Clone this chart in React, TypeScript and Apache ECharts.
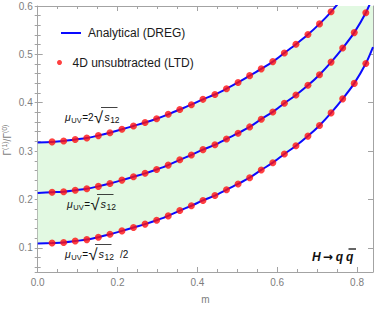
import React, { useEffect, useRef } from "react";
import * as echarts from "echarts";

// m values of the LTD points
const mDots = [0.036, 0.065, 0.094, 0.123, 0.152, 0.181, 0.211, 0.240, 0.269, 0.298, 0.327, 0.356, 0.385, 0.414,
  0.444, 0.473, 0.502, 0.531, 0.560, 0.589, 0.618, 0.647, 0.677, 0.706, 0.735, 0.764, 0.793, 0.822];
// 4D unsubtracted (LTD) points
const ltdTop = [0.319, 0.321, 0.324, 0.327, 0.332, 0.338, 0.345, 0.352, 0.359, 0.367, 0.376, 0.386, 0.396, 0.407,
  0.417, 0.429, 0.442, 0.456, 0.470, 0.485, 0.503, 0.521, 0.541, 0.563, 0.588];
const ltdMid = [0.215, 0.216, 0.219, 0.222, 0.227, 0.233, 0.240, 0.247, 0.254, 0.262, 0.271, 0.282, 0.292, 0.303,
  0.313, 0.325, 0.337, 0.350, 0.366, 0.381, 0.399, 0.416, 0.436, 0.458, 0.484, 0.513, 0.545, 0.586];
const ltdLow = [0.110, 0.111, 0.114, 0.117, 0.122, 0.128, 0.135, 0.142, 0.149, 0.157, 0.166, 0.177, 0.187, 0.198,
  0.208, 0.220, 0.232, 0.245, 0.261, 0.276, 0.294, 0.311, 0.331, 0.353, 0.379, 0.408, 0.440, 0.481];

// Analytical (DREG) curves
const mCurve = [0.0, 0.036, 0.065, 0.094, 0.123, 0.152, 0.181, 0.211, 0.240, 0.269, 0.298, 0.327, 0.356, 0.385,
  0.414, 0.444, 0.473, 0.502, 0.531, 0.560, 0.589, 0.618, 0.647, 0.677, 0.706, 0.735, 0.764, 0.793, 0.822, 0.84];
const dregTop = [0.318, 0.319, 0.321, 0.324, 0.327, 0.332, 0.338, 0.345, 0.352, 0.359, 0.367, 0.376, 0.386, 0.396,
  0.407, 0.417, 0.429, 0.442, 0.456, 0.470, 0.485, 0.503, 0.521, 0.541, 0.563, 0.588, 0.617, 0.649, 0.690, 0.726];
const dregMid = [0.2135, 0.215, 0.216, 0.219, 0.222, 0.227, 0.233, 0.240, 0.247, 0.254, 0.262, 0.271, 0.282, 0.292,
  0.303, 0.313, 0.325, 0.337, 0.350, 0.366, 0.381, 0.399, 0.416, 0.436, 0.458, 0.484, 0.513, 0.545, 0.586, 0.620];
const dregLow = [0.109, 0.110, 0.111, 0.114, 0.117, 0.122, 0.128, 0.135, 0.142, 0.149, 0.157, 0.166, 0.177, 0.187,
  0.198, 0.208, 0.220, 0.232, 0.245, 0.261, 0.276, 0.294, 0.311, 0.331, 0.353, 0.379, 0.408, 0.440, 0.481, 0.515];

const xTickLabels = ["0.0", "0.2", "0.4", "0.6", "0.8"];
const yTickLabels = ["0.1", "0.2", "0.3", "0.4", "0.5", "0.6"];

const LINE_NAME = "Analytical (DREG)";
const DOT_NAME = "4D unsubtracted (LTD)";

const FONT = "Liberation Sans";
const frameColor = "#a3a3a3";
const labelColor = "#7d7d7d";
const blue = "#0a0aff";
const red = "#ff1010";
const green = "#e2f9e2";

const zip = (xs: number[], ys: number[]) => ys.map((y, i) => [xs[i], y]);

function fmt(list: string[]) {
  return (v: number) => {
    const s = v.toFixed(1);
    return list.includes(s) && Math.abs(v - parseFloat(s)) < 1e-6 ? s : "";
  };
}

function majorX(position: "bottom" | "top", labels: boolean) {
  return {
    type: "value", position, min: 0, max: 0.84, interval: 0.2,
    axisLine: { show: true, onZero: false, lineStyle: { color: frameColor, width: 1 } },
    axisTick: { show: true, inside: true, length: 5, lineStyle: { color: frameColor } },
    axisLabel: { show: labels, formatter: fmt(xTickLabels), color: labelColor, fontSize: 10, fontFamily: FONT, margin: 5, showMaxLabel: false },
    splitLine: { show: false },
    ...(labels ? { name: "m", nameLocation: "middle", nameGap: 22, nameTextStyle: { color: labelColor, fontSize: 10, fontFamily: FONT } } : {}),
  };
}
function minorX(position: "bottom" | "top") {
  return {
    type: "value", position, min: 0, max: 0.84, interval: 0.05,
    axisLine: { show: false }, axisLabel: { show: false }, splitLine: { show: false },
    axisTick: { show: true, inside: true, length: 3, lineStyle: { color: frameColor } },
  };
}
function majorY(position: "left" | "right", labels: boolean) {
  return {
    type: "value", position, min: 0.05, max: 0.6, minInterval: 0.1, maxInterval: 0.1,
    axisLine: { show: true, onZero: false, lineStyle: { color: frameColor, width: 1 } },
    axisTick: { show: true, inside: true, length: 5, lineStyle: { color: frameColor } },
    axisLabel: { show: labels, formatter: fmt(yTickLabels), color: labelColor, fontSize: 10, fontFamily: FONT, margin: 5 },
    splitLine: { show: false },
  };
}
function minorY(position: "left" | "right") {
  return {
    type: "value", position, min: 0.05, max: 0.6, minInterval: 0.02, maxInterval: 0.02,
    axisLine: { show: false }, axisLabel: { show: false }, splitLine: { show: false },
    axisTick: { show: true, inside: true, length: 3, lineStyle: { color: frameColor } },
  };
}

const muRich = {
  mu: { fontSize: 10.5, fontStyle: "italic", fontFamily: FONT, fill: "#111" },
  sub: { fontSize: 7.5, fontFamily: FONT, fill: "#111", padding: [6, 0, 0, 0.5] },
  eq: { fontSize: 10, fontFamily: FONT, fill: "#111", padding: [0, 0.5, 0, 0.5] },
  rad: { fontSize: 16.5, fontFamily: FONT, fill: "#111" },
  s: { fontSize: 11, fontStyle: "italic", fontFamily: FONT, fill: "#111", padding: [0, 0, 0, 1] },
  n: { fontSize: 8.5, fontFamily: FONT, fill: "#111", padding: [6, 0, 0, 0.5] },
  tail: { fontSize: 10, fontFamily: FONT, fill: "#111", padding: [0, 0, 0, 6] },
};
function muLabel(x: number, y: number, text: string) {
  return {
    type: "text", x, y, silent: true, z: 10,
    style: { text, align: "left", verticalAlign: "middle", rich: muRich, fill: "#111", fontFamily: FONT },
  };
}
function bar(x1: number, x2: number, y: number, w = 0.8) {
  return { type: "line", silent: true, z: 10, shape: { x1, y1: y, x2, y2: y }, style: { stroke: "#111", lineWidth: w } };
}

export default function App() {
  const ref = useRef<HTMLDivElement>(null);
  useEffect(() => {
    if (!ref.current) return;
    const chart = echarts.init(ref.current, null, { renderer: "svg" });
    const curve = (data: number[]) => ({
      type: "line", name: LINE_NAME, data: zip(mCurve, data), smooth: 0.3, symbol: "none", showSymbol: false,
      xAxisIndex: 0, yAxisIndex: 0, z: 3, clip: true,
      lineStyle: { color: blue, width: 2 }, itemStyle: { color: blue },
    });
    const dots = (data: number[]) => ({
      type: "scatter", name: DOT_NAME, data: zip(mDots, data), symbol: "circle", symbolSize: 7,
      xAxisIndex: 0, yAxisIndex: 0, z: 4, clip: true, itemStyle: { color: red },
    });
    chart.setOption({
      animation: false,
      grid: { left: 37.7, right: 1, top: 6, bottom: 36.3, containLabel: false },
      xAxis: [majorX("bottom", true), minorX("bottom"), majorX("top", false), minorX("top")],
      yAxis: [majorY("left", true), minorY("left"), majorY("right", false), minorY("right")],
      legend: [
        {
          data: [{ name: LINE_NAME, icon: "rect" }], left: 61, top: 27, padding: 0, itemWidth: 20, itemHeight: 2,
          selectedMode: false, textStyle: { fontSize: 12, fontFamily: FONT, color: "#1a1a1a", padding: [0, 0, 0, 2] },
        },
        {
          data: [{ name: DOT_NAME, icon: "circle" }], left: 57, top: 56.5, padding: 0, itemWidth: 16, itemHeight: 5,
          selectedMode: false, textStyle: { fontSize: 12, fontFamily: FONT, color: "#1a1a1a" },
        },
      ],
      series: [
        {
          type: "custom", name: "band", silent: true, z: 1, clip: true, xAxisIndex: 0, yAxisIndex: 0,
          data: [[0, 0.1]],
          renderItem: (_params: any, api: any) => {
            const upper = mCurve.map((m, i) => api.coord([m, dregTop[i]]));
            const lower = mCurve.map((m, i) => api.coord([m, dregLow[i]])).reverse();
            return { type: "polygon", shape: { points: upper.concat(lower) }, style: { fill: green, stroke: "none" } };
          },
        },
        curve(dregTop), curve(dregMid), curve(dregLow),
        dots(ltdTop), dots(ltdMid), dots(ltdLow),
      ],
      graphic: [
        // y axis title
        {
          type: "text", x: 7, y: 140, rotation: Math.PI / 2, silent: true,
          style: {
            text: "{g|Γ}{p|(1)}{g|/Γ}{p|(0)}", align: "center", verticalAlign: "middle", fill: labelColor,
            rich: {
              g: { fontSize: 10, fontFamily: FONT, fill: labelColor },
              p: { fontSize: 7, fontFamily: FONT, fill: labelColor, padding: [0, 0, 6, 0] },
            },
          },
        },
        muLabel(65, 117, "{mu|μ}{sub|UV}{eq|=2}{rad|√}{s|s}{n|12}"),
        bar(101, 117.5, 107.5),
        muLabel(67, 204, "{mu|μ}{sub|UV}{eq|=}{rad|√}{s|s}{n|12}"),
        bar(97, 113.5, 194.5),
        muLabel(65, 254, "{mu|μ}{sub|UV}{eq|=}{rad|√}{s|s}{n|12}{tail|/2}"),
        bar(95, 111.5, 244.5),
        // process label
        {
          type: "text", x: 312, y: 257, silent: true, z: 10,
          style: {
            text: "{h|H}{a|→}{q|q}{q2|q}", align: "left", verticalAlign: "middle", fill: "#111",
            rich: {
              h: { fontSize: 12, fontWeight: "bold", fontStyle: "italic", fontFamily: FONT, fill: "#111" },
              a: { fontSize: 12, fontWeight: "bold", fontFamily: "DejaVu Sans", fill: "#111", padding: [0, 3, 0, 2] },
              q: { fontSize: 12, fontWeight: "bold", fontStyle: "italic", fontFamily: FONT, fill: "#111", padding: [0, 3, 0, 0] },
              q2: { fontSize: 12, fontWeight: "bold", fontStyle: "italic", fontFamily: FONT, fill: "#111" },
            },
          },
        },
        bar(348.5, 356, 249, 1.3),
      ],
    });
    return () => chart.dispose();
  }, []);
  return <div ref={ref} style={{ position: "absolute", left: 0, top: 0, width: 374, height: 309 }} />;
}
